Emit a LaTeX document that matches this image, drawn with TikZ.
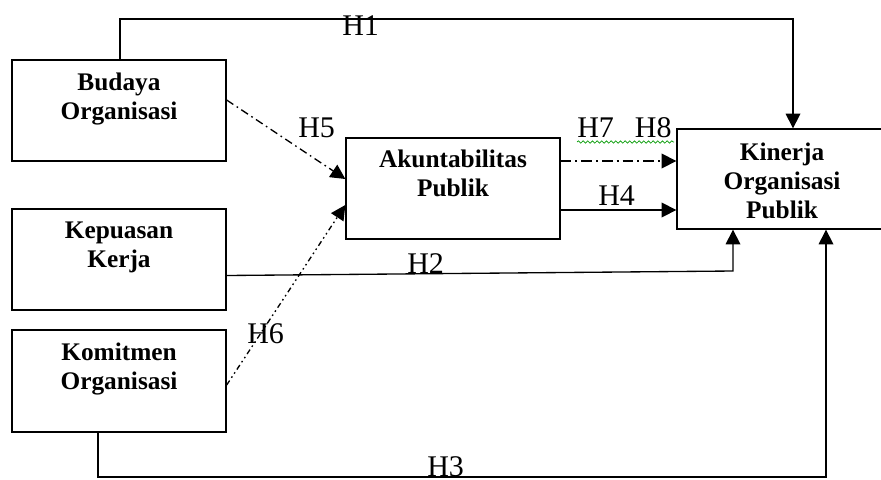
\documentclass[tikz,border=0pt]{standalone}
\usepackage{fontspec}
\setmainfont{Liberation Serif}
\usetikzlibrary{arrows.meta,fit,calc,decorations.pathmorphing}
\begin{document}
\begin{tikzpicture}[x=0.75pt,y=-0.75pt,
  box/.style={draw, line width=1pt, inner sep=0pt, rectangle},
  boxtext/.style={font=\bfseries\fontsize{19}{21.75}\selectfont, align=center, anchor=north, inner sep=0pt},
  hyp/.style={font=\fontsize{22.5}{24}\selectfont, inner sep=0pt, anchor=base west},
  conn/.style={line width=1pt, -{Triangle[length=11pt,width=11pt]}},
  dashdotA/.style={dash pattern=on 6pt off 3pt on 1.2pt off 3pt},
  dashdotB/.style={dash pattern=on 4pt off 2.5pt on 1.2pt off 2.5pt on 1.2pt off 2.5pt},
  dashdotC/.style={dash pattern=on 8pt off 3pt on 1.5pt off 3pt},
  spell/.style={draw=green!60!black, line width=0.5pt, decorate, decoration={snake, amplitude=0.9pt, segment length=3.5pt}}
]
\useasboundingbox (0,0) rectangle (881,479);

% boxes
\node[box, fit={(12,60)(226,161)}] (bud) {};
\node[box, fit={(12,209)(226,310)}] (kep) {};
\node[box, fit={(12,330)(226,432)}] (kom) {};
\node[box, fit={(346,138)(560,239)}] (aku) {};
\node[box, fit={(677,129)(895,229)}] (kin) {};

% box texts
\node[boxtext] (tbud) at ($(bud.north)+(0,13)$) {Budaya\\Organisasi};
\node[boxtext] (tkep) at ($(kep.north)+(0,13)$) {Kepuasan\\Kerja};
\node[boxtext] (tkom) at ($(kom.north)+(0,13)$) {Komitmen\\Organisasi};
\node[boxtext] (taku) at ($(aku.north)+(0,12)$) {Akuntabilitas\\Publik};
\node[boxtext] (tkin) at ($(kin.north)+(-4,14)$) {Kinerja\\Organisasi\\Publik};

% H1
\coordinate (h1a) at (120,19);
\coordinate (h1b) at (793,19);
\draw[conn] (bud.north -| h1a) -- (h1a) -- (h1b) -- (h1b |- kin.north);
\node[hyp] (lh1) at (342,35) {H1};

% H5
\draw[conn, dashdotA] ($(bud.east)+(0,-10.5)$) -- ($(aku.west)+(0,-9.5)$);
\node[hyp] (lh5) at (298,137) {H5};

% H6
\draw[conn, dashdotB] ($(kom.east)+(0,4)$) -- ($(aku.west)+(0,16.5)$);
\node[hyp] (lh6) at (247,343) {H6};

% H2
\coordinate (h2a) at ($(kep.east)+(0,16)$);
\coordinate (h2b) at (733,271);
\draw[conn] (h2a) -- (h2b) -- (h2b |- kin.south);
\node[hyp] (lh2) at (407,273) {H2};

% H3
\coordinate (h3a) at (98,477);
\coordinate (h3b) at (826,477);
\draw[conn] (kom.south -| h3a) -- (h3a) -- (h3b) -- (h3b |- kin.south);
\node[hyp] (lh3) at (427,476) {H3};

% H7 H8
\coordinate (h7s) at ($(aku.east)+(0,-27.5)$);
\draw[conn, dashdotC] (h7s) -- (h7s -| kin.west);
\node[hyp] (lh78) at (577,137) {H7\hspace{0.7em}H8};
\coordinate (sp1) at (577,142);
\coordinate (sp2) at (674,142);
\draw[spell] (sp1) -- (sp2);

% H4
\coordinate (h4s) at ($(aku.east)+(0,21.5)$);
\draw[conn] (h4s) -- (h4s -| kin.west);
\node[hyp] (lh4) at (598,205) {H4};
\end{tikzpicture}
\end{document}
